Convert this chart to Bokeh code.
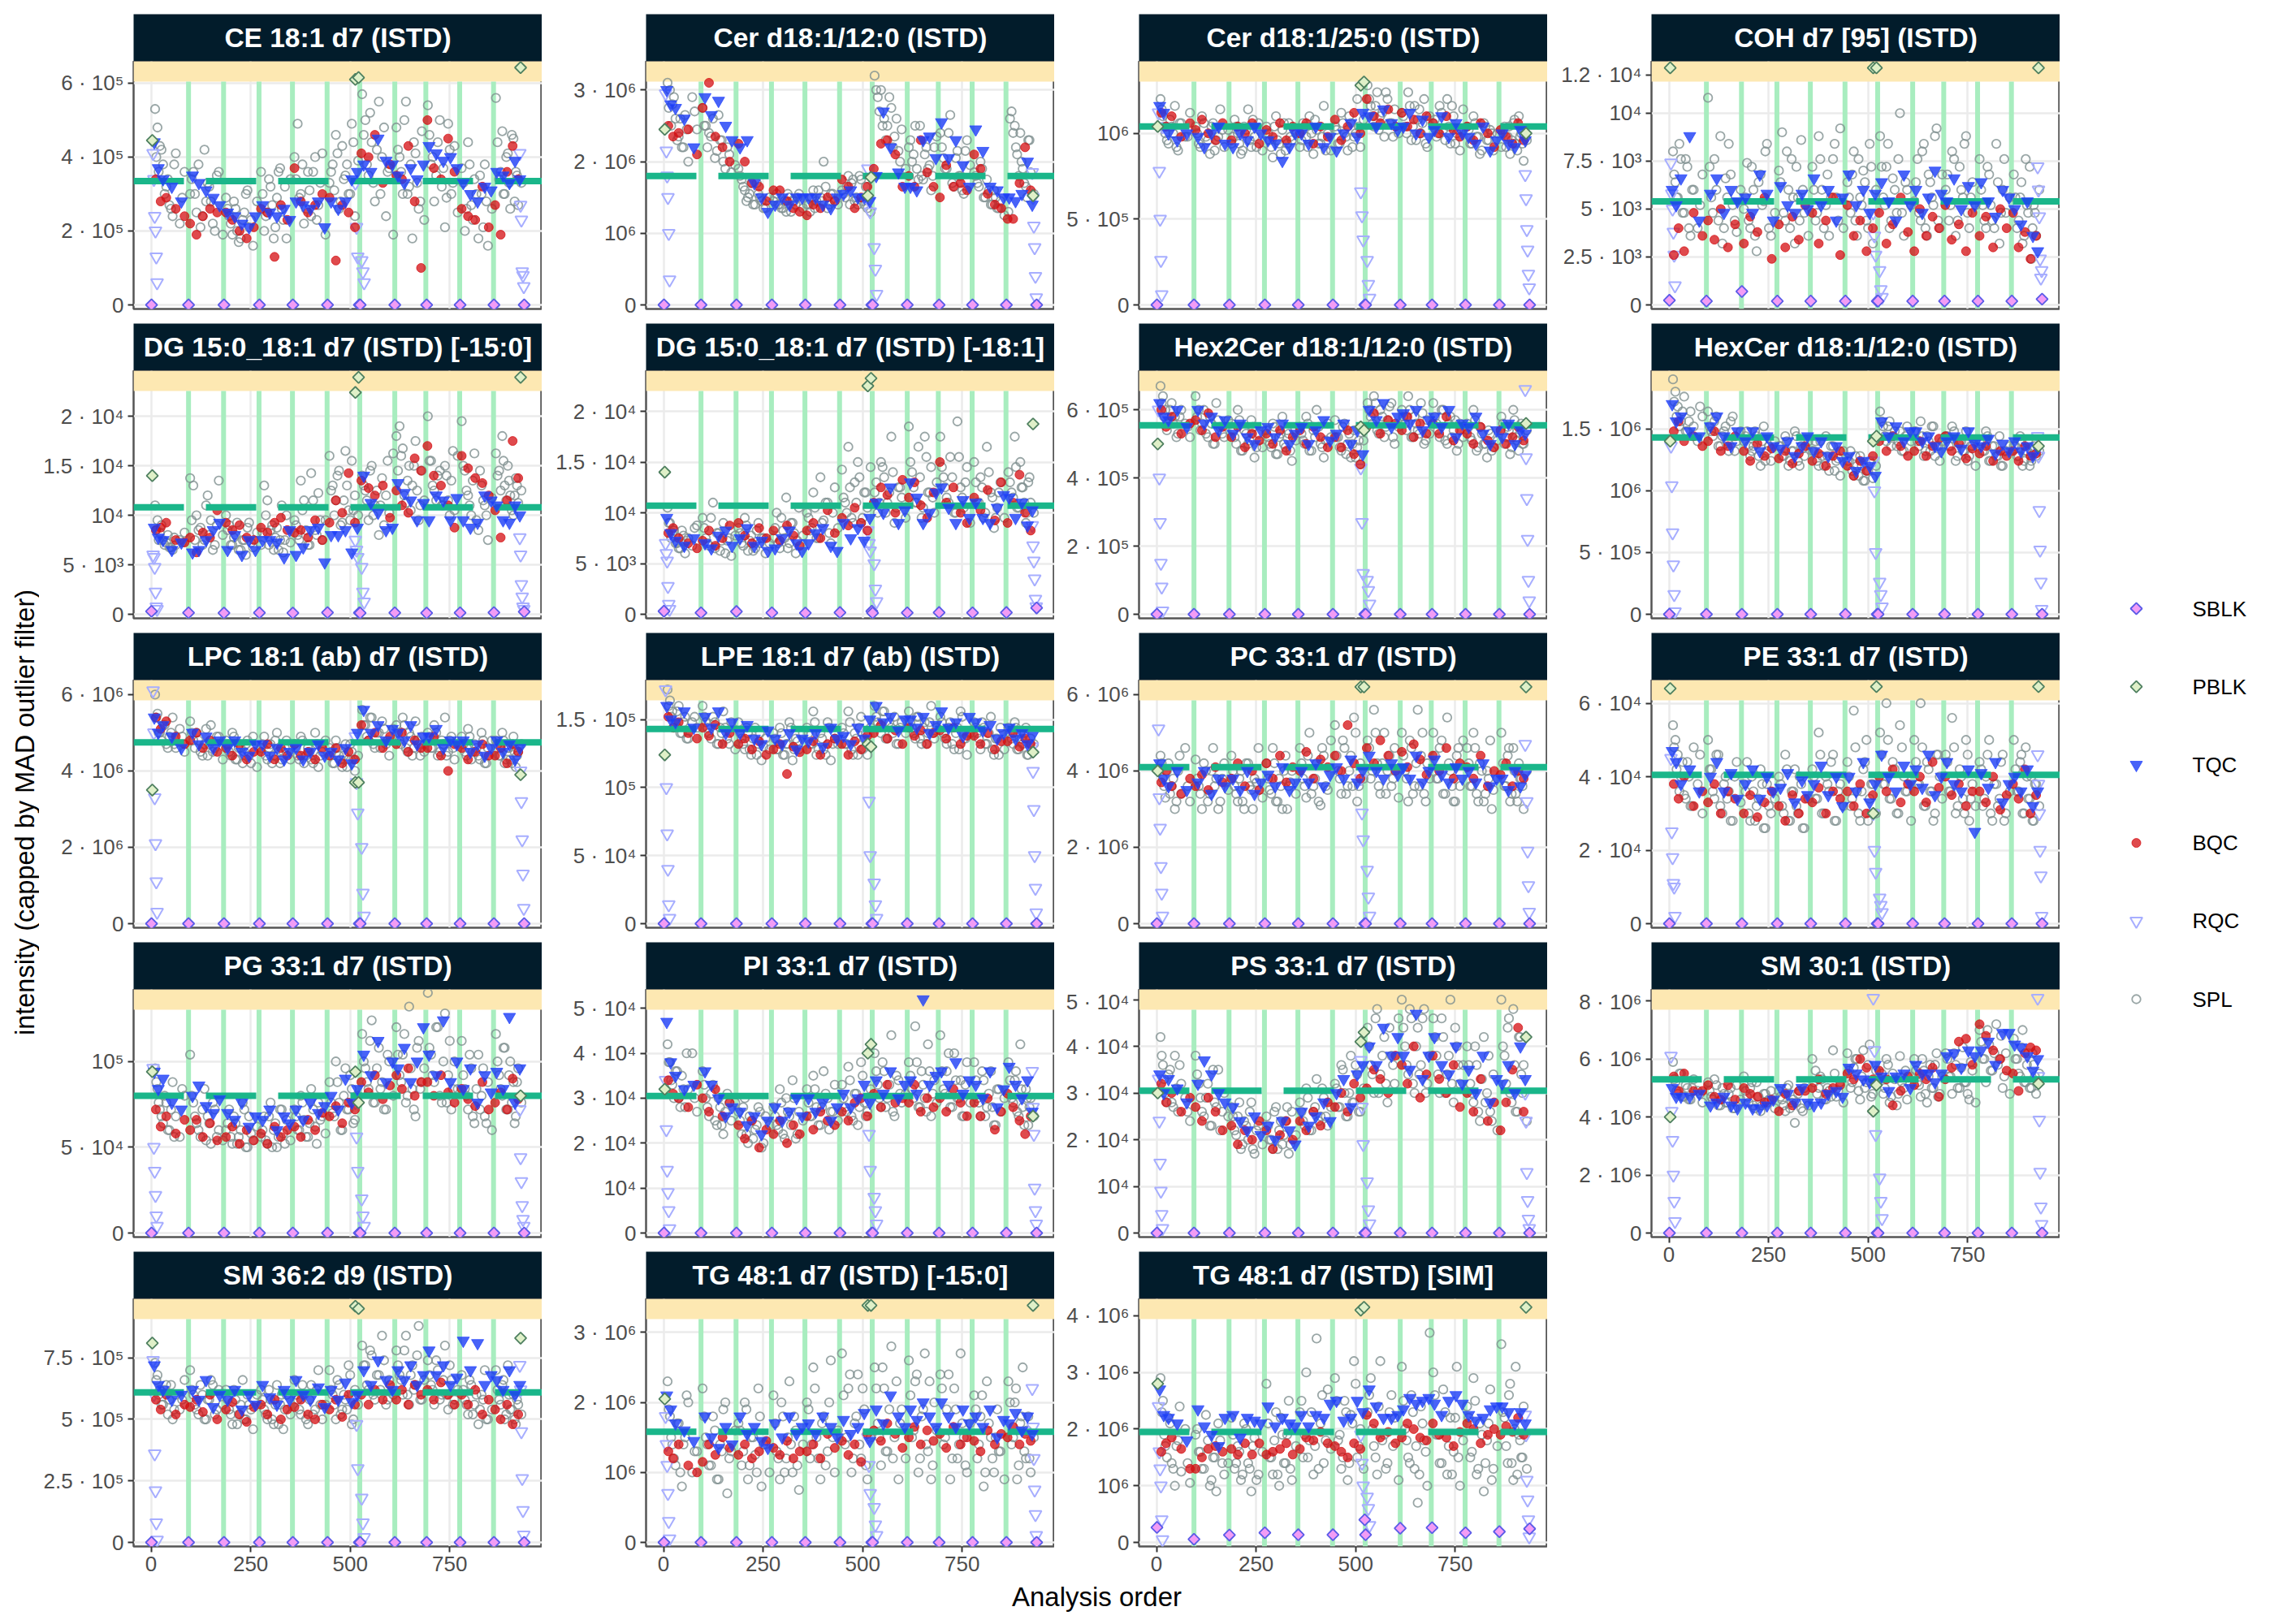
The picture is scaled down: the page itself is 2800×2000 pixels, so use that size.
from math import pi
from bokeh.plotting import figure
from bokeh.layouts import row, column
from bokeh.models import Range1d, FixedTicker
from bokeh.core.properties import value
from bokeh.embed import file_html
from bokeh.resources import INLINE

FONT = value("Liberation Sans")
XLO, XHI = -44, 982
batches = [94,182,271,355,442,524,612,690,775,860]
titles = ["CE 18:1 d7 (ISTD)","Cer d18:1/12:0 (ISTD)","Cer d18:1/25:0 (ISTD)","COH d7 [95] (ISTD)",
"DG 15:0_18:1 d7 (ISTD) [-15:0]","DG 15:0_18:1 d7 (ISTD) [-18:1]","Hex2Cer d18:1/12:0 (ISTD)","HexCer d18:1/12:0 (ISTD)",
"LPC 18:1 (ab) d7 (ISTD)","LPE 18:1 d7 (ab) (ISTD)","PC 33:1 d7 (ISTD)","PE 33:1 d7 (ISTD)",
"PG 33:1 d7 (ISTD)","PI 33:1 d7 (ISTD)","PS 33:1 d7 (ISTD)","SM 30:1 (ISTD)",
"SM 36:2 d9 (ISTD)","TG 48:1 d7 (ISTD) [-15:0]","TG 48:1 d7 (ISTD) [SIM]"]
tops = [6.59e5,3.4e6,1.42e6,1.27e4,2.46e4,2.4e4,7.15e5,1.97e6,6.38e6,1.79e5,6.38e6,6.63e4,1.42e5,5.42e4,5.22e4,8.4e6,9.9e5,3.48e6,4.3e6]
ticks = [
 {0:"0",2e5:"2 · 10⁵",4e5:"4 · 10⁵",6e5:"6 · 10⁵"},
 {0:"0",1e6:"10⁶",2e6:"2 · 10⁶",3e6:"3 · 10⁶"},
 {0:"0",5e5:"5 · 10⁵",1e6:"10⁶"},
 {0:"0",2500:"2.5 · 10³",5000:"5 · 10³",7500:"7.5 · 10³",1e4:"10⁴",1.2e4:"1.2 · 10⁴"},
 {0:"0",5e3:"5 · 10³",1e4:"10⁴",1.5e4:"1.5 · 10⁴",2e4:"2 · 10⁴"},
 {0:"0",5e3:"5 · 10³",1e4:"10⁴",1.5e4:"1.5 · 10⁴",2e4:"2 · 10⁴"},
 {0:"0",2e5:"2 · 10⁵",4e5:"4 · 10⁵",6e5:"6 · 10⁵"},
 {0:"0",5e5:"5 · 10⁵",1e6:"10⁶",1.5e6:"1.5 · 10⁶"},
 {0:"0",2e6:"2 · 10⁶",4e6:"4 · 10⁶",6e6:"6 · 10⁶"},
 {0:"0",5e4:"5 · 10⁴",1e5:"10⁵",1.5e5:"1.5 · 10⁵"},
 {0:"0",2e6:"2 · 10⁶",4e6:"4 · 10⁶",6e6:"6 · 10⁶"},
 {0:"0",2e4:"2 · 10⁴",4e4:"4 · 10⁴",6e4:"6 · 10⁴"},
 {0:"0",5e4:"5 · 10⁴",1e5:"10⁵"},
 {0:"0",1e4:"10⁴",2e4:"2 · 10⁴",3e4:"3 · 10⁴",4e4:"4 · 10⁴",5e4:"5 · 10⁴"},
 {0:"0",1e4:"10⁴",2e4:"2 · 10⁴",3e4:"3 · 10⁴",4e4:"4 · 10⁴",5e4:"5 · 10⁴"},
 {0:"0",2e6:"2 · 10⁶",4e6:"4 · 10⁶",6e6:"6 · 10⁶",8e6:"8 · 10⁶"},
 {0:"0",2.5e5:"2.5 · 10⁵",5e5:"5 · 10⁵",7.5e5:"7.5 · 10⁵"},
 {0:"0",1e6:"10⁶",2e6:"2 · 10⁶",3e6:"3 · 10⁶"},
 {0:"0",1e6:"10⁶",2e6:"2 · 10⁶",3e6:"3 · 10⁶",4e6:"4 · 10⁶"},
]
means = [3.35e5,1.8e6,1.04e6,5.4e3,1.08e4,1.07e4,5.55e5,1.43e6,4.75e6,1.43e5,4.1e6,4.05e4,8e4,3.05e4,3.05e4,5.3e6,6.1e5,1.58e6,1.95e6]
# values below are in these per-panel units
units = [1e4,5e4,2e4,200,250,250,1e4,2e4,1e5,2e3,1e5,1e3,2e3,1e3,1e3,1e5,1e4,5e4,5e4]

tqc_x = [8,18,30,52,76,104,120,138,156,172,192,210,228,246,262,280,298,316,334,348,364,382,400,420,436,452,470,488,504,518,534,552,570,590,606,620,636,652,668,684,698,716,734,752,768,784,802,820,838,854,868,884,900,914,926]
bqc_x = [12,24,38,62,84,98,114,130,148,166,188,204,222,240,258,276,292,310,326,342,360,376,394,412,430,448,464,480,496,512,528,546,562,582,600,616,630,646,662,678,694,710,728,746,762,780,796,814,832,848,864,878,894,908,922]
spl_x = [10,16,22,30,38,46,54,62,72,84,98,106,114,124,134,142,150,160,170,180,188,196,204,212,220,230,238,246,256,266,276,284,292,300,308,316,324,332,340,350,360,368,376,384,394,402,412,420,430,438,448,456,464,472,480,488,496,504,512,520,530,538,546,554,562,572,580,590,598,608,616,624,632,640,648,656,664,672,680,686,695,703,711,720,730,738,746,754,762,770,780,788,796,804,812,822,830,838,846,856,866,874,882,888,896,902,910,916,922,930]
spl2_x = [13,19,26,34,42,50,58,78,102,110,119,129,138,146,155,165,192,200,208,216,225,234,242,251,280,288,296,304,312,320,328,336,364,372,380,389,398,407,416,425,452,460,468,476,484,492,500,508,534,542,550,558,567,576,585,594,620,628,636,644,652,660,668,676,699,707,716,725,734,742,750,758,784,792,800,808,817,826,834,842,870,878,885,892,899,906,913,919]
rqc_x = [5,7,9,11,13,15,513,516,519,529,532,535,926,928,930,932,934,936]
pblk_x = [3,513,521,928]
sblk_x = [1,94,183,272,356,443,523,525,612,692,776,861,937]

tqc_ce = [44,37,34,32,28,35,33,31,29,27,25,24,22,21,24,27,25,24,26,23,28,27,26,28,21,28,26,28,34,36,38,36,45,39,38,35,33,37,34,38,43,41,39,40,37,33,30,28,32,31,36,35,33,39,34]
bqc_ce = [34,28,29,26,24,22,19,24,26,25,25,23,20,18,21,26,25,13,27,23,37,28,25,27,30,29,12,27,25,21,41,40,46,33,38,35,34,43,28,10,50,37,34,45,36,26,24,23,32,21,27,19,36,43,34]
spl_ce = [53,48,43,38,32,27,24,41,22,36,30,36,25,21,42,33,28,20,36,19,29,24,19,26,17,23,30,21,16,28,36,20,25,32,18,29,37,23,18,34,40,49,30,22,36,24,40,27,41,19,33,38,46,26,43,35,30,49,24,39,57,50,35,44,28,55,40,24,37,19,48,40,30,55,32,18,41,26,47,23,54,38,28,44,32,21,49,30,43,25,37,20,44,27,34,18,30,38,16,26,56,34,47,30,41,26,45,36,27,33]
sp2_ce = [40,36,42,30,34,26,38,29,34,30,38,24,28,32,22,35,26,22,28,20,18,25,31,23,30,24,34,27,21,36,26,32,34,29,38,26,31,36,23,33,36,31,41,28,34,38,30,44,46,38,52,33,42,30,48,36,42,36,50,30,38,44,33,28,46,40,35,50,37,29,42,33,33,26,38,23,30,35,21,28,44,36,30,40,33,46,28,35]
rqc_ce = [41,34,24,20,13,6,33,21,13,12,9,6,41,27,23,9,8,5]
tqc_c12 = [60,56,55,52,44,58,53,57,50,46,44,46,34,30,26,28,30,28,30,30,30,30,28,27,30,31,32,30,30,29,36,54,44,37,33,33,32,46,47,41,51,41,46,39,33,49,43,33,32,30,30,29,31,40,28]
bqc_c12 = [50,47,48,49,42,55,62,47,44,40,45,40,34,33,29,32,32,29,27,26,25,28,27,30,29,35,33,27,30,33,38,45,46,42,33,36,33,46,37,33,30,39,33,34,32,42,38,31,28,27,24,24,34,44,32]
spl_c12 = [62,60,56,52,47,44,53,40,58,49,55,50,48,52,43,46,40,44,37,39,38,35,32,30,34,28,31,29,27,30,29,31,28,27,26,30,29,28,31,27,28,26,32,29,30,40,27,31,29,28,32,30,36,34,29,28,35,28,27,26,64,58,60,52,50,55,47,43,49,38,44,40,50,35,36,42,38,32,44,47,48,41,38,53,33,43,36,31,46,39,37,34,40,30,35,28,32,27,29,25,26,54,50,42,48,38,33,46,37,31]
sp2_c12 = [55,50,58,46,52,44,49,54,50,44,47,41,53,46,38,42,36,33,29,31,28,34,30,27,30,28,27,29,31,26,29,30,28,30,27,32,29,33,28,31,31,33,28,35,30,36,29,33,60,54,50,46,58,44,52,40,46,42,38,50,35,44,39,36,44,38,48,34,41,36,32,43,36,33,38,30,32,28,30,27,52,48,44,36,40,34,30,46]
rqc_c12 = [59,43,36,30,20,7,38,29,26,16,10,3,37,30,22,16,8,2]
tqc_c25 = [58,56,50,48,50,49,46,50,52,47,46,50,48,52,50,48,47,42,46,50,50,47,52,46,49,45,50,53,49,56,55,52,57,53,51,52,56,50,54,49,51,55,49,53,50,49,47,52,45,48,50,47,46,51,48]
bqc_c25 = [56,52,55,49,53,51,54,50,48,53,48,52,50,53,47,51,49,53,48,52,50,53,47,52,49,54,48,52,56,50,60,55,53,57,52,56,52,54,50,55,53,50,55,51,49,52,48,53,50,46,51,49,47,53,48]
spl_c25 = [60,55,50,47,52,58,45,53,49,56,52,47,55,49,44,53,48,57,46,51,47,54,50,44,52,57,46,49,53,45,52,48,43,55,47,51,45,53,48,50,46,53,49,55,44,51,47,58,50,45,52,47,56,50,45,53,49,60,46,54,64,58,52,62,55,49,60,53,57,50,56,52,62,48,58,54,50,60,46,55,53,49,58,51,60,47,55,50,45,57,52,47,55,49,44,53,48,51,45,50,46,52,49,44,53,47,55,50,42,48]
sp2_c25 = [57,52,48,54,50,46,53,49,50,46,53,48,52,45,49,51,49,52,47,45,51,48,54,46,50,46,52,48,44,53,47,49,48,52,46,50,54,47,49,45,51,47,53,49,55,46,50,52,60,55,58,51,56,62,53,49,55,50,58,52,48,57,53,47,54,50,56,48,52,58,47,51,51,47,53,49,45,52,48,50,50,46,52,48,54,45,49,47]
rqc_c25 = [56,39,25,13,3,52,33,26,19,13,6,2,38,31,22,16,9,5]
tqc_coh = [30,26,33,44,22,29,33,24,30,27,28,24,34,29,22,31,26,24,29,25,33,26,30,22,28,34,26,30,24,29,32,27,22,34,26,30,24,28,35,29,27,33,25,31,26,32,27,23,30,28,25,21,27,18,14]
bqc_coh = [13,20,14,24,18,22,17,25,15,21,16,23,19,28,12,21,15,23,17,26,24,16,22,28,13,26,18,22,14,20,24,16,21,28,19,14,25,18,23,20,26,17,21,14,24,18,23,15,25,20,24,15,19,12,18]
spl_coh = [40,32,28,38,24,36,18,30,20,34,54,28,38,22,16,33,42,26,19,30,25,37,20,30,14,34,27,42,18,24,35,45,22,30,38,16,28,43,24,18,36,22,44,30,26,18,38,28,46,20,32,24,40,18,28,35,22,42,16,30,44,28,36,20,33,24,50,18,30,26,27,38,22,42,18,32,26,46,20,34,30,22,40,18,36,28,44,20,32,26,38,26,20,34,22,42,16,30,24,28,34,20,28,16,38,24,12,26,18,30]
sp2_coh = [34,28,42,24,38,20,30,26,36,24,30,44,20,28,34,22,28,22,36,18,32,26,40,20,32,24,40,20,28,36,22,30,30,24,38,20,34,28,42,22,28,34,22,38,26,32,20,36,36,26,42,22,30,38,24,32,32,24,40,20,34,28,44,22,34,26,38,22,30,42,24,28,30,22,36,26,20,32,24,38,28,22,32,18,26,36,20,24]
rqc_coh = [37,29,25,19,13,5,24,18,13,9,4,2,36,30,23,12,7,9]
tqc_dg1 = [35,31,30,26,29,25,26,30,34,37,26,32,24,30,26,30,30,29,23,34,24,27,34,35,21,32,32,34,25,35,56,45,41,34,35,53,49,46,38,45,38,48,46,38,47,38,35,37,48,46,44,38,37,44,40]
bqc_dg1 = [34,35,37,30,29,31,25,33,31,42,37,34,36,31,30,35,33,37,39,34,33,34,31,38,30,37,46,41,57,37,54,51,48,52,39,50,44,41,63,58,68,56,52,44,35,64,59,55,53,48,42,31,46,70,55]
spl_dg1 = [44,38,33,30,29,27,26,28,30,33,55,52,40,35,30,48,38,28,54,32,40,36,28,32,26,30,24,37,27,33,28,52,46,34,26,35,30,25,40,29,38,32,54,46,28,57,34,49,30,38,64,52,46,58,37,66,42,62,48,40,56,50,38,60,44,32,55,48,41,65,72,76,67,45,60,52,70,38,58,46,80,62,50,56,44,60,46,54,42,64,78,58,48,40,65,34,52,44,30,47,65,58,72,52,60,48,40,55,45,50]
sp2_dg1 = [34,30,36,28,32,27,31,29,38,30,34,28,44,32,26,36,34,28,31,37,26,30,35,29,33,40,28,36,31,26,44,30,36,30,42,34,28,46,32,38,50,40,56,36,46,52,38,42,52,46,58,40,50,44,36,62,58,64,48,54,42,60,50,44,62,52,46,58,44,56,40,66,60,50,44,54,38,58,46,40,56,50,62,46,54,42,48,52]
rqc_dg1 = [24,23,19,9,3,2,30,26,23,19,9,5,31,24,12,7,3,2]
tqc_dg2 = [38,32,29,27,30,28,26,31,33,27,30,34,27,29,25,26,30,33,28,25,28,32,34,27,25,36,30,34,29,38,44,40,50,36,41,52,46,36,40,48,50,42,36,45,38,44,38,36,42,47,46,38,44,35,41]
bqc_dg2 = [32,34,30,28,26,29,33,27,30,35,36,31,28,34,30,33,29,35,31,27,33,36,30,41,32,38,35,42,36,33,44,50,47,40,53,46,52,43,38,48,60,44,50,40,36,46,41,49,37,52,36,44,55,40,33]
spl_dg2 = [42,36,32,28,26,33,24,30,27,35,38,30,27,44,32,25,36,29,23,31,34,28,38,25,31,26,36,30,24,28,30,40,26,33,46,28,36,24,42,31,40,33,48,30,54,37,44,28,50,34,57,44,66,38,52,60,36,48,42,58,48,40,60,54,44,70,36,50,46,38,74,56,44,66,38,70,48,58,40,52,70,54,46,62,40,76,50,42,58,36,60,44,54,38,66,48,34,42,52,38,56,48,70,42,60,50,36,52,44,40]
sp2_dg2 = [36,30,33,28,26,31,29,34,34,28,38,26,32,29,24,30,32,27,35,29,25,33,28,30,34,28,38,30,26,36,32,29,38,34,42,30,36,44,32,40,46,40,50,36,44,54,38,48,52,44,58,40,48,56,42,50,60,50,44,54,42,62,48,46,58,50,44,54,40,62,46,52,52,44,50,40,56,46,38,48,52,46,58,42,50,44,40,54]
rqc_dg2 = [28,24,21,11,4,2,33,28,25,20,10,5,35,27,21,14,6,3]
tqc_hx2 = [62,58,57,60,55,60,56,58,54,57,53,56,52,50,54,55,52,56,50,53,55,50,54,57,51,53,56,50,54,47,60,57,62,55,58,59,56,60,54,57,58,55,60,52,56,55,58,53,50,54,52,56,50,54,53]
bqc_hx2 = [60,55,58,53,56,57,54,59,52,55,52,55,49,53,51,53,50,54,48,52,54,50,55,52,49,52,49,54,47,44,55,59,53,57,56,54,58,52,56,53,56,53,58,51,54,53,50,55,51,49,54,50,52,55,51]
spl_hx2 = [67,64,60,56,62,58,53,60,56,52,64,60,56,53,58,50,62,55,52,57,56,52,60,48,54,50,57,46,53,49,54,50,56,47,52,58,49,53,45,51,55,51,58,48,54,60,50,46,56,52,57,52,48,56,50,46,54,49,44,51,62,58,64,54,60,52,57,62,50,55,60,56,64,52,58,54,62,50,57,53,62,56,52,60,50,58,54,48,56,52,56,52,60,48,55,50,46,53,49,51,58,50,55,47,60,52,48,56,50,54]
sp2_hx2 = [62,58,54,60,56,52,58,55,58,54,60,52,56,50,57,53,54,50,57,48,53,51,55,49,52,49,55,47,53,50,54,48,53,50,56,48,52,55,49,51,52,49,55,47,53,50,46,51,60,56,62,53,58,55,61,52,58,54,60,52,56,53,59,51,58,54,60,51,56,52,57,50,55,51,57,49,53,50,54,48,56,52,54,49,57,51,53,50]
rqc_hx2 = [60,40,27,15,8,1,43,27,12,10,7,3,66,46,34,22,10,4]
tqc_hx1 = [85,78,80,74,72,76,80,72,68,74,70,74,66,72,68,67,70,64,68,72,66,70,64,68,62,64,58,62,60,56,78,72,76,70,74,74,70,72,68,66,70,72,67,74,69,68,71,65,69,66,70,66,68,64,67]
bqc_hx1 = [74,78,70,72,68,70,74,66,68,72,66,62,69,64,67,63,66,61,65,68,62,65,60,64,66,60,56,62,58,64,70,66,72,68,64,66,70,64,68,71,72,66,69,63,67,65,68,62,66,64,66,62,68,64,65]
spl_hx1 = [95,90,84,78,88,74,82,76,70,80,82,74,78,68,72,76,66,80,70,74,70,74,64,68,72,60,76,66,62,70,68,64,72,60,66,74,62,68,64,70,66,70,60,64,72,58,68,62,56,66,62,66,56,60,64,54,58,62,55,60,82,76,70,78,72,68,74,66,76,70,74,70,78,64,72,66,76,68,62,70,72,68,76,62,70,66,74,64,68,60,70,66,74,62,68,64,72,60,66,68,68,64,72,60,66,70,62,68,64,66]
sp2_hx1 = [86,80,76,82,74,78,72,84,76,72,80,68,74,70,78,66,72,68,66,74,64,70,62,68,68,64,70,62,66,72,60,67,66,62,70,60,64,68,58,63,62,58,64,56,60,54,58,61,78,72,76,68,74,70,66,72,74,68,72,66,70,76,64,68,72,68,74,64,70,66,62,68,70,66,72,62,68,64,60,66,68,64,70,62,66,60,64,67]
rqc_hx1 = [68,52,33,20,8,1,62,50,25,13,8,3,72,64,42,26,13,2]
tqc_lpc = [54,50,52,49,46,50,47,49,46,48,46,48,45,44,47,47,44,46,43,45,46,43,45,47,44,45,43,46,42,50,56,50,52,48,51,50,48,52,47,49,49,51,46,48,47,48,45,47,44,46,48,45,47,43,46]
bqc_lpc = [54,51,53,49,47,48,50,46,48,45,46,44,47,43,45,45,47,43,46,44,47,44,45,43,46,44,46,42,45,43,52,48,50,46,49,47,50,45,48,46,46,49,44,40,47,46,43,45,47,44,44,46,42,47,45]
spl_lpc = [60,55,50,52,47,49,54,46,51,45,53,48,50,45,47,44,52,46,49,43,48,45,50,43,46,42,47,44,49,41,46,49,43,47,44,50,42,45,48,43,47,44,49,42,46,43,50,41,45,48,46,42,48,44,41,47,43,45,40,44,56,52,48,54,46,50,53,47,44,51,52,48,54,46,50,44,53,47,49,45,50,46,52,44,48,54,45,49,43,47,49,45,51,43,47,44,50,42,46,48,48,44,50,42,46,43,49,41,45,47]
sp2_lpc = [54,50,48,52,46,50,47,49,50,46,48,44,51,47,45,49,47,44,49,43,46,45,48,42,47,44,46,42,48,45,43,46,46,43,48,44,45,42,47,44,45,42,46,43,44,41,47,43,52,49,54,47,50,46,51,48,50,47,52,45,49,46,48,44,49,46,50,45,47,44,48,46,47,44,49,45,46,43,48,42,47,44,48,43,46,42,45,44]
rqc_lpc = [61,50,33,21,11,3,49,37,29,20,8,2,47,40,32,22,13,4]
tqc_lpe = [80,75,74,78,72,76,72,78,70,74,70,73,68,66,71,68,66,70,64,68,67,70,65,72,68,69,66,72,68,75,80,74,76,71,75,75,72,76,70,73,78,72,74,69,76,74,71,73,68,70,72,68,70,66,69]
bqc_lpe = [76,72,74,70,68,72,69,73,66,70,66,68,64,67,62,64,66,55,65,63,64,67,62,66,68,66,62,67,64,69,70,73,68,71,66,72,69,71,66,70,71,68,72,66,69,69,66,70,64,67,67,70,65,68,66]
spl_lpe = [86,82,78,74,80,70,76,68,74,72,80,74,70,76,66,72,78,68,74,64,74,68,64,70,62,72,66,60,68,64,70,64,72,62,66,74,60,68,64,70,72,66,78,62,70,64,74,60,68,66,72,66,78,64,70,62,76,68,62,72,80,74,70,78,68,72,76,66,74,70,78,72,68,76,66,74,70,80,68,72,76,70,66,74,64,72,78,68,62,70,74,70,64,72,66,76,62,68,72,64,72,68,74,64,70,66,72,62,68,66]
sp2_lpe = [80,76,72,78,70,74,68,76,76,72,68,74,66,70,72,66,70,66,72,64,68,62,70,65,68,64,70,62,66,72,64,67,70,66,74,64,68,62,72,66,70,66,74,62,68,72,64,70,76,72,78,68,74,70,66,72,74,70,76,68,72,66,74,70,74,68,72,66,70,64,76,68,72,68,74,66,70,64,68,62,70,66,72,64,68,70,62,66]
rqc_lpe = [86,50,33,20,7,2,70,45,25,15,7,2,65,56,42,25,13,4]
tqc_pc = [42,38,36,40,35,37,40,34,38,36,38,35,40,34,37,39,36,41,35,37,40,37,42,36,39,41,38,43,37,40,44,40,38,42,39,41,38,44,37,40,43,39,37,41,38,40,37,42,36,38,38,35,40,36,39]
bqc_pc = [37,40,36,34,38,36,39,35,41,37,38,42,36,40,35,42,38,44,37,41,40,45,38,43,41,44,40,52,42,38,46,42,48,44,40,45,41,47,43,39,44,40,46,38,42,41,38,44,36,40,39,42,36,40,38]
spl_pc = [44,38,33,42,36,30,40,34,46,32,43,36,30,40,34,46,38,32,42,35,44,36,32,40,30,42,35,38,46,33,42,35,46,32,38,30,44,36,40,34,46,38,33,50,36,42,31,44,35,48,52,40,34,46,36,44,54,32,42,38,48,38,56,42,34,50,40,36,46,33,50,40,32,46,36,56,44,34,42,38,50,38,46,34,54,40,32,44,36,48,46,36,50,34,42,32,40,48,35,38,50,36,44,32,46,34,42,38,30,40]
sp2_pc = [42,36,40,34,38,32,44,36,38,34,42,32,40,36,30,38,40,34,38,32,42,36,30,37,38,34,42,32,36,40,30,37,42,36,44,34,38,32,46,36,44,38,48,34,40,36,50,36,46,40,50,36,42,34,44,38,44,38,48,34,42,36,50,32,44,38,48,34,42,36,32,46,42,36,46,32,40,34,38,30,42,36,46,34,40,32,38,36]
rqc_pc = [51,33,25,15,8,2,38,29,22,14,7,2,47,40,32,19,10,3]
tqc_pe = [47,44,38,42,36,40,44,36,41,34,38,42,34,40,36,37,41,33,39,35,38,43,35,40,32,40,36,44,33,38,46,40,36,43,38,42,37,46,35,40,44,38,36,42,25,41,37,44,33,38,40,36,42,32,36]
bqc_pe = [38,34,40,32,36,33,38,30,36,34,30,35,29,33,36,32,28,35,30,34,33,37,30,36,34,36,32,38,30,35,40,36,42,33,38,36,40,33,44,37,40,35,38,32,36,36,33,40,31,35,38,34,42,30,35]
spl_pe = [54,50,46,40,35,44,32,48,38,30,50,42,34,46,30,40,36,28,44,33,38,44,28,36,32,42,26,38,30,34,40,32,46,28,36,42,30,38,26,34,42,34,52,30,40,36,46,28,38,32,44,32,58,36,28,42,50,34,38,30,52,38,60,34,44,30,54,40,36,28,50,38,60,32,44,36,28,46,40,34,46,36,56,30,42,34,50,28,38,32,44,32,40,50,28,38,34,46,30,36,50,36,44,30,48,34,40,28,38,32]
sp2_pe = [48,42,36,44,34,40,32,46,42,36,46,32,38,34,28,40,36,30,40,28,34,38,26,32,38,30,42,28,36,32,40,26,40,34,46,30,38,44,28,36,40,34,48,30,36,44,28,38,46,38,50,34,42,30,48,36,44,38,48,32,42,36,30,46,44,36,48,32,40,30,46,34,42,34,46,30,38,32,44,28,42,36,46,30,40,34,28,38]
rqc_pe = [45,25,18,11,10,2,30,20,14,7,5,3,46,38,30,20,13,2]
tqc_pg = [47,42,45,38,36,40,43,37,35,39,35,33,38,31,34,33,36,30,34,32,36,33,38,35,37,40,36,45,38,42,52,46,56,44,50,48,54,44,50,60,52,46,62,44,50,42,48,38,46,41,47,42,63,38,48]
bqc_pg = [36,31,34,29,33,30,33,28,32,27,28,31,26,30,27,29,26,31,28,30,31,28,33,30,35,34,37,32,38,36,44,41,46,39,43,46,42,48,40,44,44,40,46,41,38,42,39,37,44,36,38,41,36,45,39]
spl_pg = [48,42,36,32,38,30,44,34,28,40,52,38,32,28,42,34,26,36,30,27,30,36,26,32,28,38,25,34,27,31,28,34,26,38,30,25,36,29,33,27,36,30,40,33,28,42,31,38,34,29,44,35,50,38,30,48,36,42,33,40,58,48,42,62,38,54,44,36,50,40,60,46,52,38,66,42,34,56,44,48,70,52,44,60,38,64,46,36,50,42,56,42,36,48,32,52,40,34,44,30,58,46,40,54,36,50,44,34,48,38]
sp2_pg = [44,38,34,40,30,36,28,42,40,34,30,36,27,32,38,28,32,28,34,26,30,36,25,29,30,27,34,25,32,28,36,26,34,30,38,28,32,36,26,33,38,34,44,30,40,36,46,32,50,44,56,38,48,42,36,52,52,44,58,40,48,36,54,42,54,46,60,40,50,38,56,42,46,40,52,34,42,36,48,32,50,42,54,36,46,38,32,44]
rqc_pg = [48,25,18,11,5,2,38,28,18,10,5,2,36,22,15,8,4,2]
tqc_pi = [47,38,35,32,33,36,33,30,26,28,27,24,26,22,25,28,25,27,30,26,30,27,29,25,28,31,28,30,33,29,34,31,36,30,33,34,31,52,33,35,36,33,38,31,34,33,30,36,28,32,37,33,30,34,27]
bqc_pi = [34,31,30,28,33,30,27,32,26,29,24,21,25,19,23,22,25,20,24,22,26,23,27,25,24,27,25,29,30,26,31,28,33,29,30,29,33,27,30,28,30,27,32,29,26,29,26,30,23,27,31,28,25,22,26]
spl_pi = [42,38,33,36,30,35,28,32,40,27,36,30,26,33,24,28,22,31,25,29,27,22,30,20,25,23,28,19,26,24,28,24,32,22,30,26,34,21,27,25,32,26,35,28,24,36,30,27,33,25,33,28,37,26,31,24,38,29,27,32,40,33,28,36,30,44,26,34,29,31,38,32,46,28,36,30,42,26,34,29,44,32,36,28,40,30,34,26,38,29,38,30,26,34,28,36,24,32,27,30,38,30,34,27,42,28,32,24,30,26]
sp2_pi = [38,34,30,36,28,32,40,30,33,28,31,25,30,24,27,29,25,28,22,26,21,24,27,20,26,23,29,21,27,24,30,22,29,26,32,24,28,31,23,27,30,27,34,25,31,28,35,26,36,30,38,28,33,27,35,31,35,30,38,28,33,27,36,31,36,31,40,28,34,30,26,33,34,29,36,26,31,28,24,32,34,29,36,26,32,24,30,28]
rqc_pi = [34,23,14,9,5,1,30,22,14,8,5,2,36,28,22,10,5,2]
tqc_ps = [34,30,33,31,28,32,37,34,30,28,27,24,22,25,21,23,20,24,22,19,26,23,25,28,24,30,33,27,34,36,40,36,44,38,42,38,35,47,33,38,42,36,34,40,32,35,30,38,28,33,32,36,30,40,33]
bqc_ps = [32,28,30,26,29,27,24,29,26,22,23,19,22,20,24,22,18,21,24,20,24,22,26,23,28,27,30,26,32,29,31,35,33,30,38,36,32,40,29,34,38,33,30,36,27,30,26,33,24,28,22,28,35,44,26]
spl_ps = [42,36,30,34,28,38,26,32,29,24,38,32,26,29,23,35,27,22,30,25,27,22,25,18,24,20,28,17,23,19,25,20,18,27,22,19,24,17,26,21,28,24,31,22,26,33,25,29,23,27,32,27,36,30,25,38,28,34,26,31,44,36,30,48,34,42,28,38,32,46,50,40,34,46,30,44,36,48,32,38,46,38,30,42,34,50,28,40,32,36,40,32,28,36,24,42,30,26,34,22,50,38,44,30,48,26,42,34,36,24]
sp2_ps = [38,33,28,35,27,31,36,26,34,29,25,32,23,28,35,26,25,21,28,19,23,26,18,22,23,20,26,18,24,21,27,19,26,23,29,22,27,24,31,25,31,27,35,25,30,28,36,26,40,34,46,30,38,32,44,36,44,36,48,32,40,34,46,30,42,34,46,30,38,32,44,36,36,30,40,26,33,28,38,24,40,32,46,28,36,26,42,30]
rqc_ps = [33,24,15,9,4,1,37,27,19,11,5,2,30,24,13,7,3,1]
tqc_s30 = [50,47,47,47,48,44,45,47,44,43,45,43,43,44,46,50,48,45,50,45,44,45,48,49,47,57,55,53,52,58,54,49,54,55,50,58,55,55,52,55,61,62,57,63,61,63,66,58,69,69,65,64,61,56,60]
bqc_s30 = [54,49,55,49,49,51,47,46,51,46,50,48,47,45,46,42,48,44,49,49,50,53,48,50,51,55,53,60,57,53,56,53,44,49,54,51,55,53,57,47,53,57,66,67,58,72,68,63,60,56,55,49,62,64,63]
spl_s30 = [59,52,48,55,47,50,46,53,49,45,52,47,53,44,50,45,48,43,51,46,54,47,50,44,52,42,48,45,49,43,49,46,42,51,45,38,48,43,50,44,60,56,50,53,46,49,63,47,52,45,62,50,57,60,46,63,52,65,48,56,53,48,60,45,55,44,61,50,46,54,60,52,47,56,45,58,50,62,48,54,62,54,48,58,50,64,52,46,56,45,70,60,52,65,56,72,60,50,62,48,67,60,54,70,52,62,50,58,48,55]
sp2_s30 = [53,49,55,47,51,46,50,48,49,46,51,44,48,45,50,43,49,45,52,43,47,44,48,46,47,44,50,43,46,45,49,42,52,48,54,46,50,47,55,49,56,52,60,49,54,50,58,47,55,50,58,47,53,48,52,56,56,51,60,48,54,50,58,47,60,54,62,50,57,52,48,59,66,60,70,56,62,58,68,54,60,55,64,52,58,50,62,54]
rqc_s30 = [61,42,32,20,11,4,81,63,34,19,11,5,81,54,39,21,9,3]
tqc_s36 = [72,64,62,58,60,62,58,66,55,60,58,62,54,60,56,64,59,56,62,58,66,60,58,63,55,62,58,65,57,60,70,64,74,66,62,70,66,72,64,68,78,68,72,64,67,82,70,81,64,68,66,62,70,60,64]
bqc_s36 = [58,54,60,52,56,55,58,53,60,50,54,57,52,49,55,56,52,58,50,54,55,58,52,50,56,54,58,51,60,56,60,56,62,58,64,58,62,56,64,60,62,58,65,60,56,60,56,62,52,58,54,50,56,48,52]
spl_s36 = [73,68,62,56,64,58,50,60,54,66,70,60,54,64,50,58,66,52,62,56,62,54,48,58,52,66,50,56,46,60,62,54,50,58,48,64,56,46,60,52,66,58,52,60,48,64,54,70,50,56,70,60,50,64,54,58,72,48,62,56,80,72,62,76,58,68,84,56,66,60,78,68,60,84,56,72,64,88,58,66,74,64,56,70,60,80,54,66,58,62,68,58,52,64,56,48,60,70,50,54,70,58,64,50,72,54,60,48,56,52]
sp2_s36 = [66,60,56,62,52,64,54,58,62,56,52,60,50,58,64,54,58,52,62,48,56,50,60,54,58,52,62,50,56,48,60,54,60,54,64,50,58,52,62,56,62,56,66,52,60,54,68,50,72,64,78,60,68,62,74,58,72,66,78,60,68,62,76,58,68,62,74,58,66,60,72,56,62,56,66,52,60,54,58,50,62,56,66,52,60,54,50,58]
rqc_s36 = [74,60,36,21,8,1,60,48,30,18,8,2,72,62,45,26,13,3]
tqc_tg1 = [42,38,34,32,29,36,30,27,33,28,36,31,33,29,27,34,30,36,31,33,34,31,36,33,30,35,31,33,37,29,38,34,42,36,33,38,35,40,36,33,40,36,33,38,34,36,33,38,30,35,34,37,32,36,31]
bqc_tg1 = [26,24,28,22,20,23,28,25,30,27,25,28,24,26,29,27,25,29,24,26,26,28,24,31,27,29,25,28,23,31,32,29,34,31,27,30,33,28,32,29,31,27,33,28,30,29,26,32,28,31,30,33,28,31,29]
spl_tg1 = [46,36,28,22,34,16,30,40,20,26,44,30,22,36,18,28,38,14,26,32,34,22,40,18,30,25,44,16,28,20,42,26,18,36,24,46,20,32,15,28,40,24,50,30,18,36,26,52,20,32,54,28,44,20,34,48,24,38,18,30,50,34,22,44,26,56,30,18,38,24,52,30,46,20,36,54,26,18,40,32,48,28,38,18,44,24,54,30,20,34,42,24,36,16,46,30,20,38,26,18,46,28,40,18,34,50,24,36,20,30]
sp2_tg1 = [38,30,24,34,20,28,42,26,36,28,22,32,18,26,40,24,32,26,38,22,30,20,36,28,34,24,40,20,30,28,36,22,38,28,44,24,34,22,40,30,42,30,48,24,36,28,44,22,44,30,50,26,38,24,46,34,42,32,48,24,38,28,46,22,44,30,48,24,38,28,34,22,38,28,42,20,34,24,30,26,40,30,44,22,36,26,32,24]
rqc_tg1 = [36,28,22,14,6,1,30,22,14,10,5,2,44,33,24,15,8,2]
tqc_tg2 = [54,45,44,42,36,47,41,38,34,44,45,37,44,43,42,48,41,44,42,41,45,41,45,44,49,50,43,44,50,46,54,48,44,44,45,47,51,49,50,51,49,45,50,52,49,45,43,44,47,48,48,46,42,46,42]
bqc_tg2 = [32,35,37,33,26,26,30,33,34,32,33,31,35,31,35,31,32,33,35,31,33,37,36,39,35,34,32,30,35,33,45,42,37,39,35,37,42,40,37,36,42,38,37,34,39,42,40,35,38,40,38,41,39,44,38]
spl_tg2 = [58,50,34,44,28,20,36,25,40,21,38,32,26,45,20,30,18,36,24,28,44,26,34,22,42,28,18,37,24,32,56,30,24,46,20,38,28,50,22,34,46,30,60,36,24,72,42,28,54,33,58,36,26,50,22,45,64,30,40,26,46,58,34,24,64,38,28,52,44,22,62,40,30,52,26,14,48,36,20,74,60,38,28,54,24,44,32,62,20,36,48,30,58,24,42,18,36,54,26,34,70,44,28,56,22,62,38,30,48,26]
sp2_tg2 = [46,38,30,42,26,34,48,28,40,32,26,36,22,30,42,28,38,28,32,24,40,26,34,22,42,30,36,24,44,28,38,26,50,38,30,46,34,26,52,36,50,38,30,46,28,42,56,34,52,40,30,48,36,26,46,34,50,36,28,46,34,24,42,32,52,38,28,46,34,24,44,30,44,32,50,26,38,28,42,22,46,34,52,28,40,24,36,30]
rqc_tg2 = [48,32,26,20,8,1,38,28,20,16,12,6,45,38,22,15,8,2]

pblk = [[44.5,61,61.5,64.2],[49,30.5,35.6,30.5],[52,64,65,50],[61.8,61.8,61.8,61.8],[56,89.6,95.7,95.7],[56,90,93,75],[50,55,54,56],[70,70,72,68],
        [35,37,37,39],[62,66,65,63],[40,62,62,62],[64,30,64.5,64.5],[47,47,38,40],[32,40,42,26],[30,41,43,42],[40,42,51,51.5],[81,96,95,83],[41,67.7,67.7,67.7],[56,82,83,83]]
no_blank = [0,0,0,0,0,0,0,0,0,0,0,0,0]
sblk = [no_blank,no_blank,no_blank,[1.2,1,3.5,1,1,1,1,1,1,1,1,1,1.5],[1.2,.6,.5,.6,.5,.7,.6,.5,.6,.5,.6,.7,1],[1.2,.6,1.1,.6,.5,.7,1.2,.5,.6,.7,.6,.7,2.5],
        no_blank,no_blank,no_blank,no_blank,no_blank,no_blank,no_blank,no_blank,no_blank,no_blank,no_blank,no_blank,[5.3,1.1,2.6,3.4,2.7,2.7,8,2.7,5,5.2,3.4,3.8,4.8]]
tqc = [tqc_ce,tqc_c12,tqc_c25,tqc_coh,tqc_dg1,tqc_dg2,tqc_hx2,tqc_hx1,tqc_lpc,tqc_lpe,tqc_pc,tqc_pe,tqc_pg,tqc_pi,tqc_ps,tqc_s30,tqc_s36,tqc_tg1,tqc_tg2]
bqc = [bqc_ce,bqc_c12,bqc_c25,bqc_coh,bqc_dg1,bqc_dg2,bqc_hx2,bqc_hx1,bqc_lpc,bqc_lpe,bqc_pc,bqc_pe,bqc_pg,bqc_pi,bqc_ps,bqc_s30,bqc_s36,bqc_tg1,bqc_tg2]
spl = [spl_ce,spl_c12,spl_c25,spl_coh,spl_dg1,spl_dg2,spl_hx2,spl_hx1,spl_lpc,spl_lpe,spl_pc,spl_pe,spl_pg,spl_pi,spl_ps,spl_s30,spl_s36,spl_tg1,spl_tg2]
sp2 = [sp2_ce,sp2_c12,sp2_c25,sp2_coh,sp2_dg1,sp2_dg2,sp2_hx2,sp2_hx1,sp2_lpc,sp2_lpe,sp2_pc,sp2_pe,sp2_pg,sp2_pi,sp2_ps,sp2_s30,sp2_s36,sp2_tg1,sp2_tg2]
rqc = [rqc_ce,rqc_c12,rqc_c25,rqc_coh,rqc_dg1,rqc_dg2,rqc_hx2,rqc_hx1,rqc_lpc,rqc_lpe,rqc_pc,rqc_pe,rqc_pg,rqc_pi,rqc_ps,rqc_s30,rqc_s36,rqc_tg1,rqc_tg2]
legend_labels = ["SBLK","PBLK","TQC","BQC","RQC","SPL"]

STYLE = {
 "SBLK": dict(marker="square",angle=pi/4,size=10,fill_color="#f29cf5",line_color="#5b5be8",line_width=1.8),
 "PBLK": dict(marker="square",angle=pi/4,size=10,fill_color="#dff0c8",line_color="#4f8060",line_width=1.8),
 "TQC": dict(marker="inverted_triangle",size=15,fill_color="#1a3cf5",fill_alpha=.8,line_color="#2a4aff",line_alpha=.8,line_width=1),
 "BQC": dict(marker="circle",size=11,fill_color="#d40d12",fill_alpha=.75,line_color="#d40d12",line_alpha=.75,line_width=1),
 "RQC": dict(marker="inverted_triangle",size=15,fill_color=None,line_color="#a7aeff",line_width=2),
 "SPL": dict(marker="circle",size=10.5,fill_color=None,line_color="#7f9090",line_alpha=.8,line_width=1.8),
}

LEFT = [116,128,104,128]
WIDTH = 503
ROWS = [[0,4,8,12,16],[1,5,9,13,17],[2,6,10,14,18],[3,7,11,15]]

def strip(i, c, first):
    p = figure(width=LEFT[c]+WIDTH, height=58+(17 if first else 0), output_backend="svg", toolbar_location=None,
               x_axis_type=None, y_axis_type=None, x_range=Range1d(0,1), y_range=Range1d(0,1),
               min_border_left=LEFT[c], min_border_right=0, min_border_top=17 if first else 0, min_border_bottom=0,
               background_fill_color="#021c2b", outline_line_color=None)
    p.grid.visible=False
    p.text(x=[0.5],y=[0.5],text=[titles[i]],text_color="white",text_align="center",text_baseline="middle",
           text_font=FONT,text_font_style="bold",text_font_size="33.5px")
    return p

def panel(i, c, xaxis):
    hi = tops[i]; lo = -hi*5/300; band = hi*275/300; u = units[i]
    p = figure(width=LEFT[c]+WIDTH, height=305+(47 if xaxis else 18), output_backend="svg", toolbar_location=None,
               x_range=Range1d(XLO,XHI), y_range=Range1d(lo,hi),
               min_border_left=LEFT[c], min_border_right=0, min_border_top=0, min_border_bottom=47 if xaxis else 18,
               outline_line_color="#555555", outline_line_width=2.5, background_fill_color="white")
    yt = list(ticks[i].keys())
    p.yaxis.ticker = FixedTicker(ticks=yt)
    p.yaxis.major_label_overrides = ticks[i]
    p.xaxis.ticker = FixedTicker(ticks=[0,250,500,750])
    p.xgrid.ticker = FixedTicker(ticks=[0,250,500,750])
    p.ygrid.ticker = FixedTicker(ticks=yt)
    p.grid.grid_line_color="#ebebeb"; p.grid.grid_line_width=2.5
    for a in (p.xaxis, p.yaxis):
        a.axis_line_color=None; a.major_tick_out=7; a.major_tick_in=0; a.minor_tick_line_color=None
        a.major_tick_line_color="#333333"; a.major_tick_line_width=2
        a.major_label_text_color="#4d4d4d"; a.major_label_text_font_size="26px"; a.major_label_text_font="Liberation Sans"
    p.xaxis.visible = xaxis
    p.quad(left=XLO,right=XHI,bottom=band,top=hi,fill_color="#fde8b2",line_color=None)
    p.segment(x0=batches,x1=batches,y0=[lo]*10,y1=[band]*10,line_color="#a8edbf",line_width=6)
    p.scatter(spl_x+spl2_x,[v*u for v in spl[i]+sp2[i]],**STYLE["SPL"])
    p.scatter(rqc_x,[v*u for v in rqc[i]],**STYLE["RQC"])
    p.scatter(bqc_x,[v*u for v in bqc[i]],**STYLE["BQC"])
    p.line([XLO,XHI],[means[i]]*2,line_color="#1ab68a",line_width=8,line_dash="62 27")
    p.scatter(tqc_x,[v*u for v in tqc[i]],**STYLE["TQC"])
    p.scatter(pblk_x,[v*u for v in pblk[i]],**STYLE["PBLK"])
    p.scatter(sblk_x,[v*u for v in sblk[i]],**STYLE["SBLK"])
    return p

cols=[]
for c,ids in enumerate(ROWS):
    items=[]
    for r,i in enumerate(ids):
        items.append(strip(i,c,r==0))
        items.append(panel(i,c,r==len(ids)-1))
    cols.append(column(*items))

H = 17+5*58+5*305+4*18+47
yt = figure(width=48,height=H,output_backend="svg",toolbar_location=None,x_axis_type=None,y_axis_type=None,
            x_range=Range1d(0,48),y_range=Range1d(H,0),min_border=0,outline_line_color=None)
yt.grid.visible=False
yt.text(x=[30],y=[1000],text=["intensity (capped by MAD outlier filter)"],angle=pi/2,text_align="center",text_baseline="middle",
        text_font=FONT,text_font_size="32.5px",text_color="black")
leg = figure(width=250,height=H,output_backend="svg",toolbar_location=None,x_axis_type=None,y_axis_type=None,
            x_range=Range1d(2536,2786),y_range=Range1d(H,0),min_border=0,outline_line_color=None)
leg.grid.visible=False
for k,name in enumerate(legend_labels):
    ly = 749+96.2*k
    leg.scatter([2630],[ly],**STYLE[name])
    leg.text(x=[2699],y=[ly],text=[name],text_align="left",text_baseline="middle",text_font=FONT,text_font_size="26px",text_color="black")
xt = figure(width=2786,height=40,output_backend="svg",toolbar_location=None,x_axis_type=None,y_axis_type=None,
            x_range=Range1d(0,2786),y_range=Range1d(40,0),min_border=0,outline_line_color=None)
xt.grid.visible=False
xt.text(x=[1350],y=[15],text=["Analysis order"],text_align="center",text_baseline="middle",text_font=FONT,text_font_size="33px",text_color="black")
page = column(row(yt,*cols,leg),xt)
open("out.html","w").write(file_html(page,INLINE))
